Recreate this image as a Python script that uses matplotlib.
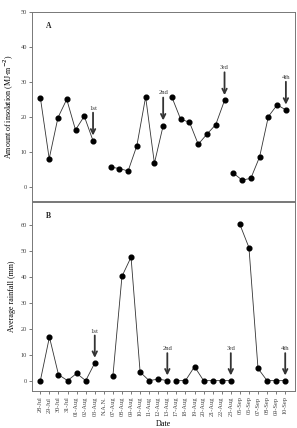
import numpy as np
import matplotlib
matplotlib.use("Agg")
import matplotlib.pyplot as plt

plt.rcParams['font.family'] = ['Liberation Serif', 'DejaVu Serif']

# Date labels for the x-axis (panel B)
dates = ['28-Jul', '29-Jul', '30-Jul', '31-Jul', '01-Aug', '02-Aug', '03-Aug',
         'N.A.N.', '07-Aug', '08-Aug', '09-Aug', '10-Aug', '11-Aug', '12-Aug',
         '13-Aug', '17-Aug', '18-Aug', '19-Aug', '20-Aug', '21-Aug', '22-Aug',
         '23-Aug', '05-Sep', '06-Sep', '07-Sep', '08-Sep', '09-Sep', '10-Sep']

# Panel A - insolation, four measurement periods (NaN = gap)
insol = [25.3, 8.1, 19.8, 25.0, 16.3, 20.2, 13.2,
         np.nan,
         5.7, 5.3, 4.6, 11.8, 25.7, 6.8, 17.5,
         np.nan,
         25.6, 19.3, 18.5, 12.2, 15.1, 17.8, 24.7,
         np.nan,
         4.0, 2.0, 2.5, 8.6, 20.1, 23.4, 22.0]
# positions in panel A (it has one more slot than the date axis)
insol_x = [0, 1, 2, 3, 4, 5, 6,
           6.5,
           8, 9, 10, 11, 12, 13, 14,
           14.5,
           15, 16, 17, 18, 19, 20, 21,
           21.5,
           22, 23, 24, 25, 26, 27, 28]

# Panel B - rainfall
rain = [0, 16.8, 2.3, 0, 2.8, 0, 6.8,
        np.nan,
        1.8, 40.2, 47.6, 3.3, 0, 0.6, 0,
        np.nan,
        0, 0, 5.4, 0, 0, 0, 0,
        np.nan,
        60.2, 51.3, 4.7, 0, 0, 0]
rain_x = [0, 1, 2, 3, 4, 5, 6,
          7,
          8, 9, 10, 11, 12, 13, 14,
          14.5,
          15, 16, 17, 18, 19, 20, 21,
          21.5,
          22, 23, 24, 25, 26, 27]

# visits: label, index in panel A, index in panel B
visits = ['1st', '2nd', '3rd', '4th']
visit_a = [6, 14, 22, 30]   # index into insol list
visit_b = [6, 14, 22, 29]   # index into rain list

fig = plt.figure(figsize=(2.97, 4.28), dpi=100)
axA = fig.add_axes([0.109, 0.530, 0.884, 0.443])
axB = fig.add_axes([0.109, 0.0864, 0.884, 0.4426])

line_kw = dict(color='#333333', lw=0.6, marker='o', ms=3.4,
               mfc='black', mec='black')

axA.plot(insol_x, insol, **line_kw)
axB.plot(rain_x, rain, **line_kw)

arrow_kw = dict(arrowstyle='->', lw=1.3, color='#333333', mutation_scale=8,
                shrinkA=0, shrinkB=0)

# arrows + labels
for lab, ia in zip(visits, visit_a):
    x, y = insol_x[ia], insol[ia]
    axA.annotate('', xy=(x, y + 1.5), xytext=(x, y + 8.0),
                 arrowprops=arrow_kw)
    axA.text(x, y + 8.6, lab, ha='center', va='bottom', fontsize=4.8,
             color='#333333')
for lab, ib in zip(visits, visit_b):
    x, y = rain_x[ib], rain[ib]
    axB.annotate('', xy=(x, y + 2.0), xytext=(x, y + 10.6),
                 arrowprops=arrow_kw)
    axB.text(x, y + 11.3, lab, ha='center', va='bottom', fontsize=4.8,
             color='#333333')

axA.set_xlim(-0.92, 29.03)
axA.set_ylim(-4, 50)
axA.set_yticks([0, 10, 20, 30, 40, 50])
axA.set_xticks([])
axA.set_ylabel('Amount of insolation (MJ·m$^{-2}$)', fontsize=5.8, labelpad=3)

axB.set_xlim(-0.88, 28.07)
axB.set_ylim(-4, 69)
axB.set_yticks([0, 10, 20, 30, 40, 50, 60])
axB.set_xticks(range(len(dates)))
axB.set_xticklabels(dates, rotation=90, fontsize=3.6)
axB.set_ylabel('Average rainfall (mm)', fontsize=5.8, labelpad=3)
axB.set_xlabel('Date', fontsize=5.8, labelpad=2.5)

for ax, letter in ((axA, 'A'), (axB, 'B')):
    ax.tick_params(labelsize=4.6, length=2, width=0.5, pad=2,
                   colors='#444444')
    for s in ax.spines.values():
        s.set_color('#777777')
        s.set_linewidth(0.7)
    ax.text(0.05, 0.915, letter, transform=ax.transAxes, fontsize=5.5,
            fontweight='bold', color='#222222')

fig.savefig('out.png', dpi=100)
